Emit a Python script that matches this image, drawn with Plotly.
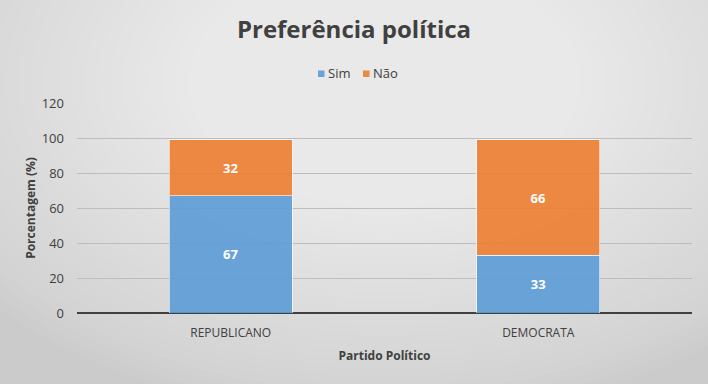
import plotly.graph_objects as go

categories = ["REPUBLICANO", "DEMOCRATA"]
sim_values = [67, 33]
nao_values = [32, 66]
y_ticks = [0, 20, 40, 60, 80, 100, 120]
series_names = ["Sim", "Não"]
series_colors = ["rgba(91,155,213,0.9)", "rgba(237,125,49,0.9)"]

FONT = "Open Sans"
W, H = 708, 384
ML, MR, MT, MB = 77, 16, 103, 71
PW, PH = W - ML - MR, H - MT - MB


def px_x(p):
    return (p - ML) / PW


def px_y(p):
    return (H - MB - p) / PH


fig = go.Figure()
for name, vals, col in zip(series_names, [sim_values, nao_values], series_colors):
    fig.add_trace(go.Bar(
        name=name, x=categories, y=vals, text=vals,
        marker=dict(color=col, line=dict(color="rgba(255,255,255,0.6)", width=1)),
        textposition="inside", insidetextanchor="middle",
        textfont=dict(color="white", size=13, family=FONT, weight="bold"),
        width=0.4, showlegend=False,
    ))

# soft radial background gradient (decorative)
shapes = []
n = 40
for i in range(n):
    f = 1 - i / n
    shapes.append(dict(
        type="circle", xref="paper", yref="paper", layer="below",
        x0=0.5 - 0.85 * f, x1=0.5 + 0.85 * f,
        y0=1.1 - 1.6 * f, y1=1.1 + 1.6 * f,
        fillcolor="rgba(255,255,255,0.045)", line=dict(width=0),
    ))

# compact legend (square swatch + label), as in the reference
annotations = []
legend_sq_x = [318, 363]
legend_txt_x = [326, 371]
for name, col, sx, tx in zip(series_names, series_colors, legend_sq_x, legend_txt_x):
    shapes.append(dict(type="rect", xref="paper", yref="paper",
                       x0=px_x(sx), x1=px_x(sx + 6.5), y0=px_y(77), y1=px_y(70.5),
                       fillcolor=col, line=dict(width=0)))
    annotations.append(dict(text=name, xref="paper", yref="paper", x=px_x(tx), y=px_y(72.5),
                            xanchor="left", yanchor="middle", showarrow=False,
                            font=dict(family=FONT, size=13, color="#404040")))

fig.update_layout(
    width=W, height=H,
    barmode="stack",
    showlegend=False,
    paper_bgcolor="#cbcbcb",
    plot_bgcolor="rgba(0,0,0,0)",
    shapes=shapes,
    annotations=annotations,
    margin=dict(l=ML, r=MR, t=MT, b=MB, autoexpand=False),
    title=dict(text="Preferência política", x=0.5, xanchor="center", xref="container",
               y=0.922, yanchor="middle", yref="container",
               font=dict(family=FONT, size=24, color="#404040", weight="bold")),
    xaxis=dict(
        title=dict(text="Partido Político", font=dict(family=FONT, size=12, color="#404040", weight="bold"), standoff=11),
        tickfont=dict(family=FONT, size=12, color="#404040"),
        showgrid=False, ticks="", range=[-0.5, 1.5], ticklabelstandoff=11,
    ),
    yaxis=dict(
        title=dict(text="Porcentagem (%)", font=dict(family=FONT, size=12, color="#404040", weight="bold"), standoff=3),
        tickfont=dict(family=FONT, size=13, color="#404040"),
        range=[0, 120], tickvals=y_ticks, showgrid=True, gridcolor="#bdbdbd", gridwidth=1,
        zeroline=True, zerolinecolor="#404040", zerolinewidth=2, ticks="",
        ticklabelstandoff=12,
    ),
    bargap=0.6,
)

fig.write_html("out.html", config={"displayModeBar": False},
               post_script="document.body.style.margin='0';")
